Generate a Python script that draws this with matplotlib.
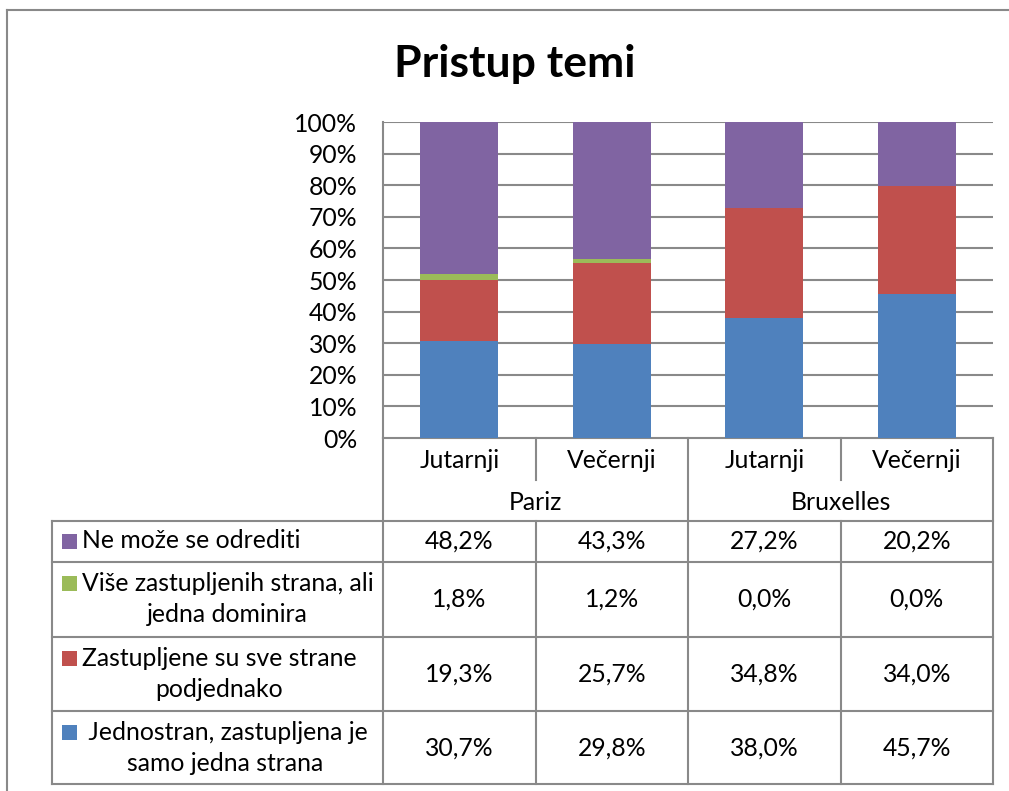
import matplotlib
matplotlib.use('Agg')
from matplotlib import pyplot as plt
from matplotlib.patches import Rectangle
from matplotlib.lines import Line2D
import matplotlib.transforms as mtransforms
import numpy as np

# -----------------------------
# 数据
# -----------------------------
categories = ['Jutarnji', 'Večernji', 'Jutarnji', 'Večernji']
groups = ['Pariz', 'Bruxelles']
series_names = ['Jednostran, zastupljena je\nsamo jedna strana',
                'Zastupljene su sve strane\npodjednako',
                'Više zastupljenih strana, ali\njedna dominira',
                'Ne može se odrediti']
jednostran = [30.7, 29.8, 38.0, 45.7]
zastupljene = [19.3, 25.7, 34.8, 34.0]
vise = [1.8, 1.2, 0.0, 0.0]
ne_moze = [48.2, 43.3, 27.2, 20.2]
series_values = [jednostran, zastupljene, vise, ne_moze]
colors = ['#4F81BD', '#C0504D', '#9BBB59', '#8064A2']
yticks = [0, 10, 20, 30, 40, 50, 60, 70, 80, 90, 100]

plt.rcParams['font.family'] = ['Lato', 'DejaVu Sans']
FS = 17.8
GRID = '#898989'

W, H = 1009, 791
fig = plt.figure(figsize=(W / 100, H / 100), dpi=100)

def fx(x):
    return x / W

def fy(y):
    return 1 - y / H

# 图表区域
left, right, top, bottom = 383, 993, 122, 438
ax = fig.add_axes([fx(left), fy(bottom), fx(right - left), (bottom - top) / H])

x = np.arange(len(categories))
base = np.zeros(len(categories))
for vals, col in zip(series_values, colors):
    ax.bar(x, vals, width=0.51, bottom=base, color=col, edgecolor='none', zorder=3)
    base += np.array(vals)

ax.set_xlim(-0.5, len(categories) - 0.5)
ax.set_ylim(0, 100)
ax.set_yticks(yticks)
ax.set_yticklabels([f'{t}%' for t in yticks], fontsize=FS)
ax.tick_params(axis='y', length=0, pad=18.5)
ax.set_xticks([])
for t in yticks[1:]:
    ax.axhline(t, color=GRID, lw=1.5, zorder=1)
for s in ['top', 'right']:
    ax.spines[s].set_visible(False)
for s in ['left', 'bottom']:
    ax.spines[s].set_color(GRID)
    ax.spines[s].set_linewidth(1.5)

# 标题
fig.text(fx(515), fy(64), 'Pristup temi', ha='center', va='center',
         fontsize=32, fontweight='bold')

# 数据表
tr = mtransforms.blended_transform_factory(ax.transData, fig.transFigure)

def hline(y, x0, x1):
    fig.add_artist(Line2D([fx(x0), fx(x1)], [fy(y), fy(y)], color=GRID, lw=1.5,
                          transform=fig.transFigure))

def vline_data(xd, y0, y1):
    fig.add_artist(Line2D([xd, xd], [fy(y0), fy(y1)], color=GRID, lw=1.5, transform=tr))

def vline_px(xp, y0, y1):
    fig.add_artist(Line2D([fx(xp), fx(xp)], [fy(y0), fy(y1)], color=GRID, lw=1.5,
                          transform=fig.transFigure))

tab_left = 52
row_lines = [520.7, 562, 637, 711, 784]
for y in row_lines:
    hline(y, tab_left, right)
vline_px(tab_left, row_lines[0], row_lines[-1])
vline_px(left, bottom, row_lines[-1])
vline_px(right, bottom, row_lines[-1])
vline_data(1.5, bottom, row_lines[-1])
for xd in [0.5, 2.5]:
    vline_data(xd, bottom, 480)
    vline_data(xd, row_lines[0], row_lines[-1])

# 类别和分组标签
for i, c in enumerate(categories):
    fig.text(i, fy(460), c, transform=tr, ha='center', va='center', fontsize=FS)
for g, name in enumerate(groups):
    fig.text(2 * g + 0.5, fy(502), name, transform=tr, ha='center', va='center', fontsize=FS)

# 数值行（从上到下）
row_centers = [541, 599, 674, 748]
for r, k in enumerate(range(len(series_values) - 1, -1, -1)):
    yc = row_centers[r]
    two = '\n' in series_names[k]
    ky = yc - 16 if two else yc
    fig.add_artist(Rectangle((fx(62), fy(ky + 7.5)), 15 / W, 15 / H,
                             facecolor=colors[k], edgecolor='none',
                             transform=fig.transFigure))
    lab = series_names[k]
    if k == 0:
        lab = ' ' + lab
    fig.text(fx(82), fy(yc), lab, ha='left', va='center', multialignment='center',
             fontsize=FS, linespacing=1.42)
    for i, v in enumerate(series_values[k]):
        fig.text(i, fy(yc), f'{v:.1f}%'.replace('.', ','), transform=tr,
                 ha='center', va='center', fontsize=FS)

# 外边框
fig.add_artist(Line2D([fx(7), fx(7)], [fy(10), 0], color=GRID, lw=1.5,
                      transform=fig.transFigure))
fig.add_artist(Line2D([fx(7), 1], [fy(10), fy(10)], color=GRID, lw=1.5,
                      transform=fig.transFigure))

plt.savefig('out.png', dpi=100)
